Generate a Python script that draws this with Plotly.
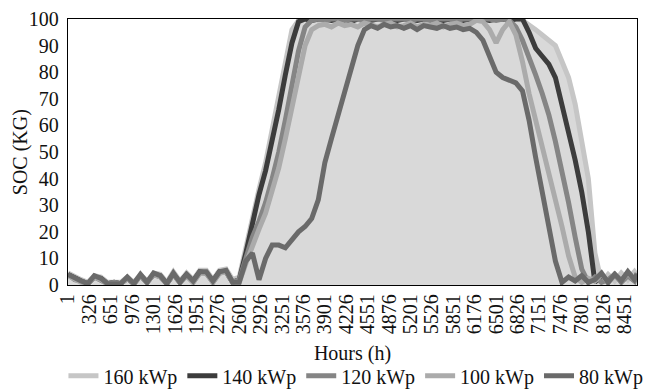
import plotly.graph_objects as go

hours = list(range(1, 8602, 100)) + [8640]

soc_160 = [4.5, 3, 2, 1, 3.5, 3, 1, 1, 1, 3, 1, 4, 1.5, 4.5, 4, 1, 5, 1.5, 4.5, 2, 5.5, 5.5, 2, 5.5, 6, 2,
           3, 14, 26, 36, 46, 58, 71, 84, 96,
           99.5, 100, 100, 99.5, 100, 100, 99, 100, 100, 100, 99.5, 100, 100, 100, 99.5, 100, 100, 99,
           100, 100, 100, 99.5, 100, 100, 100, 99.5, 100, 100, 99.5, 100, 100, 100, 99.5, 100, 99.5,
           98, 96, 94, 92, 90, 84, 78, 68, 55, 40, 12, 1,
           4, 1.5, 4.5, 2, 5, 3.5]

soc_140 = [4, 2.5, 1.5, 0.5, 3, 2.5, 0.5, 1, 0.5, 2.5, 0.5, 3.5, 1, 4, 3.5, 0.5, 4, 1, 4, 1.5, 5, 4.5, 1.5, 5, 5, 1,
           2, 12, 24, 34, 43, 54, 66, 79, 91, 99,
           100, 99.5, 100, 100, 99.5, 100, 100, 99, 100, 100, 99.5, 100, 100, 100, 99.5, 100, 100,
           99.5, 100, 100, 100, 99.5, 100, 100, 99.5, 100, 100, 100, 99.5, 100, 100, 99.5, 100, 100,
           95, 89, 86, 83, 78, 68, 57, 47, 35, 20, 1,
           3.5, 1, 4, 1.5, 4.5, 2, 3.5]

soc_120 = [4, 2, 1.5, 0.5, 3, 2, 0.5, 1, 0.5, 2.5, 0.5, 3.5, 1, 4, 3, 0.5, 4, 1, 3.5, 1, 4.5, 4.5, 1, 4.5, 5, 1,
           2, 10, 18, 24, 31, 40, 50, 62, 76, 88, 97, 99.5,
           100, 99.5, 100, 100, 99.5, 100, 100, 99, 100, 100, 99.5, 100, 100, 100, 99.5, 100,
           100, 99.5, 100, 100, 100, 99.5, 100, 100, 99.5, 100, 100, 99.5, 100,
           99.5, 97, 92, 86, 79, 72, 64, 54, 43, 31, 18, 6, 1,
           3, 1, 2, 4, 1, 3.5, 1.5, 4.5]

soc_100 = [3.5, 2, 1, 0.5, 3, 2, 0.5, 0.5, 0.5, 2.5, 0.5, 3.5, 1, 4, 3, 0.5, 4, 1, 3.5, 1, 4.5, 4.5, 1, 4.5, 5, 1,
           1, 8, 15, 21, 27, 35, 44, 55, 66, 79, 90, 96, 97.5,
           98, 97, 98.5, 97.5, 98, 97, 98.5, 97.5, 97, 98, 98.5, 97, 97.5, 98.5, 97, 98, 97.5,
           98.5, 97, 98, 98.5, 97.5, 98, 99.5, 99,
           96, 91, 96, 99, 94, 84, 72, 62, 52, 43, 33, 22, 11, 3, 1,
           2.5, 1.5, 4, 1, 3.5, 1.5, 4.5, 2, 3.5]

soc_80 = [4, 2.5, 1.5, 0.5, 3.5, 2.5, 0.5, 0.5, 0.5, 3, 0.5, 4, 1, 4.5, 3.5, 0.5, 4.5, 1, 4, 1.5, 5, 5, 1.5, 5, 5.5, 1,
          1, 9, 12, 2, 10, 15, 15, 14, 17, 20, 22, 25, 32, 46, 55, 64, 73, 82, 90, 96,
          97.5, 96.5, 98, 97, 97.5, 96.5, 97.5, 96, 97.5, 97, 96.5, 97.5, 96.5, 97, 96, 96.5,
          95, 92, 86, 80, 78, 77, 76, 73, 62, 48, 35, 22, 9, 1,
          3, 1.5, 3.5, 1, 2, 4.5, 1, 4, 1.5, 5, 2, 4]

series_names = ["160 kWp", "140 kWp", "120 kWp", "100 kWp", "80 kWp"]
series_values = [soc_160, soc_140, soc_120, soc_100, soc_80]
series_colors = ["#c6c6c6", "#3c3c3c", "#858585", "#ababab", "#6a6a6a"]
fill_color = "#d9d9d9"

tick_hours = list(range(1, 8452, 325))
y_ticks = list(range(0, 101, 10))

FONT = "Liberation Serif, Times New Roman, DejaVu Serif, serif"

fig = go.Figure()
# area under the outermost (160 kWp) curve
fig.add_trace(go.Scatter(
    x=hours, y=soc_160, mode="lines", line=dict(width=0, color=fill_color),
    fill="tozeroy", fillcolor=fill_color, showlegend=False, hoverinfo="skip",
))
for name, vals, col in zip(series_names, series_values, series_colors):
    fig.add_trace(go.Scatter(
        x=hours, y=vals, name=name, mode="lines",
        line=dict(color=col, width=5),
    ))

fig.update_layout(
    width=650, height=391,
    margin=dict(l=68, r=13, t=19, b=106, autoexpand=False),
    paper_bgcolor="white", plot_bgcolor="white",
    font=dict(family=FONT, size=20, color="#111111"),
    showlegend=True,
    legend=dict(orientation="h", x=-0.008, xanchor="left", y=-0.268, yanchor="top",
                font=dict(family=FONT, size=20), itemwidth=30,
                bgcolor="rgba(0,0,0,0)", tracegroupgap=0),
    annotations=[dict(text="SOC (KG)", textangle=-90, xref="paper", yref="paper",
                      x=-0.084, y=0.5, xanchor="center", yanchor="middle",
                      showarrow=False, font=dict(family=FONT, size=20, color="#111111"))],
)
fig.update_xaxes(
    range=[1, 8640], tickmode="array", tickvals=tick_hours,
    ticktext=[str(t) for t in tick_hours], tickangle=-90,
    showgrid=False, zeroline=False, showline=True, linecolor="#000000", linewidth=1.3,
    mirror=True, ticks="", layer="below traces", automargin=False,
    tickfont=dict(family=FONT, size=20),
    title=dict(text="Hours (h)", font=dict(family=FONT, size=20), standoff=12),
)
fig.update_yaxes(
    range=[0, 100], tickmode="array", tickvals=y_ticks,
    showgrid=False, zeroline=False, showline=True, linecolor="#000000", linewidth=1.3,
    mirror=True, ticks="", layer="below traces", automargin=False,
    tickfont=dict(family=FONT, size=20), ticklabelstandoff=4,
)

fig.write_html("out.html")
